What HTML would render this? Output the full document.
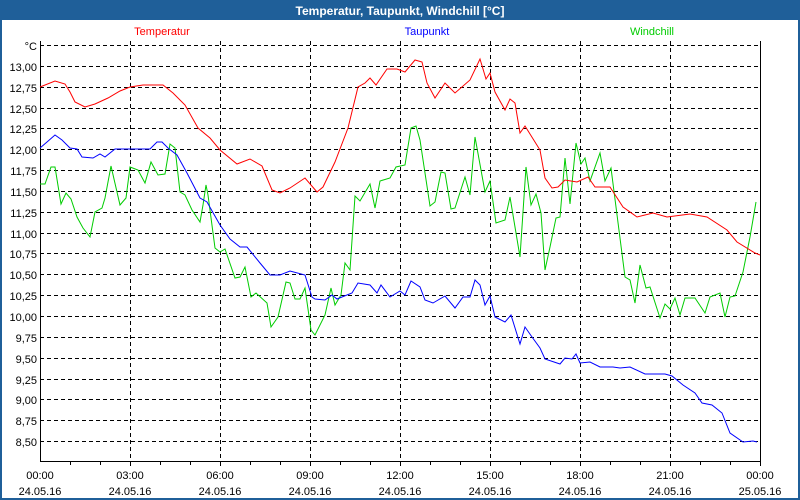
<!DOCTYPE html>
<html><head><meta charset="utf-8"><style>
html,body{margin:0;padding:0;background:#fff}
svg{display:block;font-family:"Liberation Sans",sans-serif}
</style></head><body>
<svg width="800" height="500" xmlns="http://www.w3.org/2000/svg">
<rect x="0" y="0" width="800" height="500" fill="#1f5f99"/>
<rect x="2" y="20" width="796" height="478" fill="#fff"/>
<text x="400" y="15" fill="#fff" font-size="12" font-weight="bold" text-anchor="middle">Temperatur, Taupunkt, Windchill [°C]</text>
<text x="162" y="35" fill="#ff0000" font-size="11" text-anchor="middle">Temperatur</text>
<text x="427" y="35" fill="#0000ff" font-size="11" text-anchor="middle">Taupunkt</text>
<text x="652" y="35" fill="#00cc00" font-size="11" text-anchor="middle">Windchill</text>
<g stroke="#000" stroke-width="1" stroke-dasharray="4,3" shape-rendering="crispEdges">
<path d="M40 45.5H760M40 66.5H760M40 87.5H760M40 108.5H760M40 128.5H760M40 149.5H760M40 170.5H760M40 191.5H760M40 212.5H760M40 233.5H760M40 253.5H760M40 274.5H760M40 295.5H760M40 316.5H760M40 337.5H760M40 358.5H760M40 379.5H760M40 399.5H760M40 420.5H760M40 441.5H760"/>
<path d="M130.5 41V461M220.5 41V461M310.5 41V461M400.5 41V461M490.5 41V461M580.5 41V461M670.5 41V461"/>
</g>
<g stroke="#000" stroke-width="1" fill="none" shape-rendering="crispEdges">
<path d="M40.5 41V461.5H760.5V41"/>
<path d="M70.5 461V465M100.5 461V465M130.5 461V466M160.5 461V465M190.5 461V465M220.5 461V466M250.5 461V465M280.5 461V465M310.5 461V466M340.5 461V465M370.5 461V465M400.5 461V466M430.5 461V465M460.5 461V465M490.5 461V466M520.5 461V465M550.5 461V465M580.5 461V466M610.5 461V465M640.5 461V465M670.5 461V466M700.5 461V465M730.5 461V465M760.5 461V466"/>
</g>
<g font-size="11" fill="#000" text-anchor="end">
<text x="37" y="50">°C</text>
<text x="37" y="71">13,00</text><text x="37" y="92">12,75</text><text x="37" y="113">12,50</text><text x="37" y="133">12,25</text><text x="37" y="154">12,00</text><text x="37" y="175">11,75</text><text x="37" y="196">11,50</text><text x="37" y="217">11,25</text><text x="37" y="238">11,00</text><text x="37" y="258">10,75</text><text x="37" y="279">10,50</text><text x="37" y="300">10,25</text><text x="37" y="321">10,00</text><text x="37" y="342">9,75</text><text x="37" y="363">9,50</text><text x="37" y="384">9,25</text><text x="37" y="404">9,00</text><text x="37" y="425">8,75</text><text x="37" y="446">8,50</text>
</g>
<g font-size="11" fill="#000" text-anchor="middle">
<text x="40" y="479">00:00</text><text x="40" y="495">24.05.16</text>
<text x="130" y="479">03:00</text><text x="130" y="495">24.05.16</text>
<text x="220" y="479">06:00</text><text x="220" y="495">24.05.16</text>
<text x="310" y="479">09:00</text><text x="310" y="495">24.05.16</text>
<text x="400" y="479">12:00</text><text x="400" y="495">24.05.16</text>
<text x="490" y="479">15:00</text><text x="490" y="495">24.05.16</text>
<text x="580" y="479">18:00</text><text x="580" y="495">24.05.16</text>
<text x="670" y="479">21:00</text><text x="670" y="495">24.05.16</text>
<text x="760" y="479">00:00</text><text x="760" y="495">25.05.16</text>
</g>
<g fill="none" stroke-width="1">
<polyline stroke="#00cc00" points="40,184 45,184 51,167 55,167 61,204 66,193 71,199 77,217 83,228 90,237 95,212 102,208 105,198 111,166 120,205 126,198 130,167 138,170 145,183 151,162 158,175 165,174 170,144 175,148 180,192 185,195 192,210 200,222 203,205 206,185 208,195 215,248 220,252 225,249 235,278 240,277 245,267 251,297 256,293 267,303 271,327 278,317 286,282 290,283 295,299 300,299 305,288 311,330 315,335 325,315 331,288 335,305 341,295 345,263 350,270 355,196 360,201 370,184 375,208 380,181 390,178 396,167 405,165 411,128 416,126 420,140 430,206 435,202 441,172 445,173 451,209 455,208 465,177 470,195 475,137 485,192 490,181 496,223 505,220 510,197 520,257 526,167 531,205 536,194 541,213 545,270 550,247 556,218 560,217 565,158 570,204 576,143 581,164 585,158 590,181 600,153 605,181 611,168 625,277 630,280 635,303 640,265 646,288 650,287 660,318 665,304 670,309 675,298 680,315 685,298 695,298 705,313 710,297 720,293 725,317 730,297 735,296 743,272 750,237 756,202"/>
<polyline stroke="#0000ff" points="40,148 47,142 55,135 62,140 70,148 77,149 82,157 93,158 100,154 105,157 115,149 150,149 157,142 162,142 168,148 177,155 187,173 200,198 207,202 220,225 230,239 240,247 247,247 260,263 270,275 280,275 290,271 305,275 312,297 315,299 325,300 332,295 337,299 352,293 358,283 370,285 377,293 381,285 390,297 400,291 405,295 411,281 420,287 425,300 433,303 445,296 455,308 463,297 470,297 475,280 480,285 485,305 490,296 495,317 505,322 511,315 520,344 525,327 532,337 540,348 545,359 560,364 565,358 572,359 576,354 580,363 590,362 600,367 613,367 620,368 630,367 645,374 665,374 672,376 683,385 695,393 702,403 712,405 722,413 730,433 743,442 753,441 757,442"/>
<polyline stroke="#ff0000" points="40,87 55,81 65,84 70,92 75,102 85,107 95,104 108,98 120,91 130,87 143,85 163,85 173,93 185,105 198,128 210,138 220,150 237,164 250,159 262,166 272,190 280,193 290,188 305,178 317,192 323,187 335,162 348,128 358,87 365,83 370,78 376,85 387,69 397,69 405,72 415,60 422,62 427,83 435,98 445,83 455,93 470,80 480,59 486,79 490,73 495,92 505,110 510,99 515,103 520,133 525,126 540,150 545,178 552,188 558,187 565,180 577,182 588,177 595,187 610,187 623,207 637,217 653,213 667,217 690,214 707,217 727,230 737,242 755,253 760,255"/>
</g>
</svg>
</body></html>
